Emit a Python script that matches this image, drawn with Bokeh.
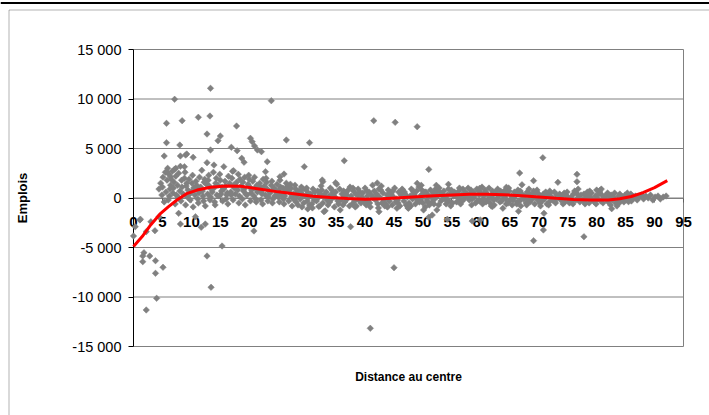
import math
from bokeh.plotting import figure
from bokeh.models import Range1d, FixedTicker, Label, Span, BoxAnnotation
from bokeh.embed import file_html
from bokeh.resources import INLINE

# ---------------- data ----------------
x_ticks = [0, 5, 10, 15, 20, 25, 30, 35, 40, 45, 50, 55, 60, 65, 70, 75, 80, 85, 90, 95]
y_ticks = [-15000, -10000, -5000, 0, 5000, 10000, 15000]
y_tick_labels = ["-15 000", "-10 000", "-5 000", "0", "5 000", "10 000", "15 000"]

# dense cloud near the centre (distance 4-30)
cloud_x = [
    4.4, 4.7, 4.9, 5.1, 5.3, 5.0, 5.5, 5.6,
    5.8, 6.0, 6.1, 6.3, 6.4, 5.9, 6.2, 6.5,
    6.7, 6.8, 7.0, 7.2, 7.3, 6.9, 7.4, 7.1,
    7.6, 7.8, 8.0, 8.2, 8.3, 7.7, 8.4, 8.1,
    8.6, 8.8, 9.0, 9.2, 9.4, 8.9, 9.3, 9.1,
    9.6, 9.8, 10.0, 10.2, 10.4, 9.7, 10.3, 10.1,
    10.6, 10.8, 11.0, 11.2, 11.4, 10.9, 11.3, 11.1,
    11.6, 11.8, 12.0, 12.2, 12.4, 11.9, 12.3, 12.1,
    12.6, 12.8, 13.0, 13.2, 13.4, 12.9, 13.3, 13.1,
    13.6, 13.8, 14.0, 14.2, 14.4, 13.9, 14.3, 14.1,
    14.6, 14.8, 15.0, 15.2, 15.4, 14.9, 15.3, 15.1,
    15.6, 15.8, 16.0, 16.2, 16.4, 15.9, 16.3, 16.1,
    16.6, 16.8, 17.0, 17.2, 17.4, 16.9, 17.3, 17.1,
    17.6, 17.8, 18.0, 18.2, 18.4, 17.9, 18.3, 18.1,
    18.6, 18.8, 19.0, 19.2, 19.4, 18.9, 19.3, 19.1,
    19.6, 19.8, 20.0, 20.2, 20.4, 19.9, 20.3, 20.1,
    20.6, 20.8, 21.0, 21.2, 21.4, 20.9, 21.3, 21.1,
    21.6, 21.8, 22.0, 22.2, 22.4, 21.9, 22.3, 22.1,
    22.6, 22.8, 23.0, 23.2, 23.4, 22.9, 23.3, 23.1,
    23.6, 23.8, 24.0, 24.2, 24.4, 23.9, 24.3, 24.1,
    24.6, 24.8, 25.0, 25.2, 25.4, 24.9, 25.3, 25.1,
    25.6, 25.8, 26.0, 26.2, 26.4, 25.9, 26.3, 26.1,
    26.6, 26.8, 27.0, 27.2, 27.4, 26.9, 27.3, 27.1,
    27.6, 27.8, 28.0, 28.2, 28.4, 27.9, 28.3, 28.1,
    28.6, 28.8, 29.0, 29.2, 29.4, 28.9, 29.3, 29.1,
    29.6, 29.8, 30.0, 30.2, 30.4, 29.9, 30.3, 30.1,
]
cloud_y = [
    900, 1500, 300, 2100, -400, 1100, 2600, 600,
    1800, -200, 2400, 900, 1300, 3000, 200, 1900,
    2700, 500, 1600, -600, 2200, 1000, 300, 2900,
    1300, 2500, 700, -300, 1800, 100, 1100, 3200,
    400, 2000, -700, 1500, 800, 2600, 100, 1200,
    1900, -200, 600, 2300, 1000, 400, -900, 1500,
    300, 1700, 900, -500, 2100, 1300, 500, -100,
    1100, 2800, 200, 1600, -800, 700, 1900, -300,
    1400, 400, 2300, -200, 900, 1800, 100, 1200,
    600, 2600, -400, 1500, 300, 1000, 2000, -700,
    1300, 200, 1800, 700, -300, 2400, 1100, 400,
    900, 1700, -100, 500, 2200, 1200, -600, 300,
    1500, 600, 2000, -200, 1000, 300, 1300, 2700,
    400, 1600, 800, -500, 1900, 1100, 200, 2400,
    1200, -100, 700, 2100, 400, 1600, -700, 900,
    300, 1400, 1900, -300, 800, 2300, 500, 1100,
    1700, 200, 1000, -400, 600, 2100, 1300, -100,
    800, 1500, -200, 400, 1900, 1100, -600, 600,
    1200, 300, 1600, -300, 700, 2000, 100, 900,
    500, 1300, -500, 900, 200, 1700, 1000, -100,
    700, 1400, 100, -400, 1100, 400, 1800, 800,
    300, 1000, -600, 600, 1500, -100, 900, 200,
    1200, -300, 500, 1000, -800, 800, 100, 1400,
    400, -200, 900, 200, -700, 1300, 600, -400,
    700, -100, 1100, 300, -500, 500, 900, -900,
    200, 800, -300, 500, -700, 1000, 100, -1100,
]

# tight band (distance 30-92)
band_x = [
    30.6, 30.8, 31.0, 31.2, 31.4, 30.9, 31.3,
    31.6, 31.8, 32.0, 32.2, 32.4, 31.7, 32.3,
    32.5, 32.7, 32.9, 33.1, 33.3, 32.8, 33.4,
    33.6, 33.8, 34.0, 34.2, 34.4, 33.9, 34.3,
    34.5, 34.7, 34.9, 35.1, 35.3, 34.8, 35.4,
    35.6, 35.8, 36.0, 36.2, 36.4, 35.7, 36.3,
    36.5, 36.7, 36.9, 37.1, 37.3, 36.8, 37.4,
    37.6, 37.8, 38.0, 38.2, 38.4, 37.9, 38.3,
    38.5, 38.7, 38.9, 39.1, 39.3, 38.8, 39.4,
    39.6, 39.8, 40.0, 40.2, 40.4, 39.7, 40.3,
    40.5, 40.7, 40.9, 41.1, 41.3, 40.8, 41.4,
    41.6, 41.8, 42.0, 42.2, 42.4, 41.9, 42.3,
    42.5, 42.7, 42.9, 43.1, 43.3, 42.8, 43.4,
    43.6, 43.8, 44.0, 44.2, 44.4, 43.9, 44.3,
    44.5, 44.7, 44.9, 45.1, 45.3, 44.8, 45.4,
    45.6, 45.8, 46.0, 46.2, 46.4, 45.7, 46.3,
    46.5, 46.7, 46.9, 47.1, 47.3, 46.8, 47.4,
    47.6, 47.8, 48.0, 48.2, 48.4, 47.9, 48.3,
    48.5, 48.7, 48.9, 49.1, 49.3, 48.8, 49.4,
    49.6, 49.8, 50.0, 50.2, 50.4, 49.7, 50.3,
    50.5, 50.7, 50.9, 51.1, 51.3, 50.8, 51.4,
    51.6, 51.8, 52.0, 52.2, 52.4, 51.9, 52.3,
    52.5, 52.7, 52.9, 53.1, 53.3, 52.8, 53.4,
    53.6, 53.8, 54.0, 54.2, 54.4, 53.9, 54.3,
    54.5, 54.7, 54.9, 55.1, 55.3, 54.8, 55.4,
    55.6, 55.8, 56.0, 56.2, 56.4, 55.7, 56.3,
    56.5, 56.7, 56.9, 57.1, 57.3, 56.8, 57.4,
    57.6, 57.8, 58.0, 58.2, 58.4, 57.9, 58.3,
    58.5, 58.7, 58.9, 59.1, 59.3, 58.8, 59.4,
    59.6, 59.8, 60.0, 60.2, 60.4, 59.7, 60.3,
    60.5, 60.7, 60.9, 61.1, 61.3, 60.8, 61.4,
    61.6, 61.8, 62.0, 62.2, 62.4, 61.9, 62.3,
    62.5, 62.7, 62.9, 63.1, 63.3, 62.8, 63.4,
    63.6, 63.8, 64.0, 64.2, 64.4, 63.9, 64.3,
    64.5, 64.7, 64.9, 65.1, 65.3, 64.8, 65.4,
    65.6, 65.8, 66.0, 66.2, 66.4, 65.7, 66.3,
    66.5, 66.7, 66.9, 67.1, 67.3, 66.8, 67.4,
    67.6, 67.8, 68.0, 68.2, 68.4, 67.9, 68.3,
    68.5, 68.7, 68.9, 69.1, 69.3, 68.8, 69.4,
    69.6, 69.8, 70.0, 70.2, 70.4, 69.7, 70.3,
    70.6, 70.8, 71.0, 71.2, 71.4, 70.9,
    71.6, 71.8, 72.0, 72.2, 72.4, 71.9,
    72.5, 72.7, 72.9, 73.1, 73.3, 72.8,
    73.6, 73.8, 74.0, 74.2, 74.4, 73.9,
    74.5, 74.7, 74.9, 75.1, 75.3, 74.8,
    75.6, 75.8, 76.0, 76.2, 76.4, 75.9,
    76.5, 76.7, 76.9, 77.1, 77.3, 76.8,
    77.6, 77.8, 78.0, 78.2, 78.4, 77.9,
    78.5, 78.7, 78.9, 79.1, 79.3, 78.8,
    79.6, 79.8, 80.0, 80.2, 80.4, 79.9,
    80.5, 80.7, 80.9, 81.1, 81.3, 80.8,
    81.6, 81.8, 82.0, 82.2, 82.4, 81.9,
    82.5, 82.7, 82.9, 83.1, 83.3, 82.8,
    83.6, 83.8, 84.0, 84.2, 84.4, 83.9,
    84.5, 84.7, 84.9, 85.1, 85.3, 84.8,
    85.6, 85.8, 86.0, 86.2, 86.4, 85.9,
    86.7, 87.0, 87.4, 87.8, 88.1, 88.5, 88.9,
    89.3, 89.7, 90.1, 90.6, 91.0, 91.5, 92.0,
]
band_y = [
    400, -600, 900, -200, 100, -1000, 600,
    -300, 700, 200, -800, 1200, -100, 400,
    800, -500, 300, -1300, 600, 100, -200,
    -700, 200, 1000, -100, 500, -400, 800,
    300, -900, 600, 1400, -300, 100, -600,
    900, -200, 400, -700, 200, -1200, 700,
    -400, 500, -100, 800, -800, 300, 1100,
    200, -600, 700, -300, 400, 1000, -900,
    -800, 300, -200, 600, -500, 900, 100,
    500, -400, 1000, -700, 200, -100, 700,
    -300, 600, -900, 300, 1300, -500, 0,
    700, -200, 400, -600, 900, 100, -1000,
    100, 800, -500, 500, -200, 1200, -800,
    -600, 300, 800, -300, 600, -900, 200,
    400, -700, 100, 1000, -400, 700, -100,
    -200, 600, -800, 300, 900, -500, 500,
    800, -300, 400, -700, 100, 600, -1000,
    -500, 200, 900, -100, 500, -800, 700,
    300, -600, 700, -300, 1100, 0, -400,
    -100, 800, -500, 500, -900, 300, 600,
    600, -200, 300, -700, 800, -400, 100,
    -400, 500, -100, 900, 200, -600, 700,
    200, -700, 600, -300, 400, 1000, -100,
    700, -100, -600, 300, 900, 100, -300,
    -300, 400, 800, -500, 200, -800, 600,
    500, -400, 100, 700, -200, 300, 1000,
    -600, 300, 900, -100, 600, -300, 200,
    400, 1000, -200, 500, -700, 200, 800,
    -100, 600, 300, -500, 900, 100, -300,
    700, -300, 500, 1100, -100, 300, -600,
    200, 800, -400, 400, -100, 600, 1000,
    -500, 300, 700, -200, 500, 100, -700,
    600, -100, 900, 200, -400, 400, 700,
    -300, 500, 100, 800, -600, 300, -100,
    400, -500, 700, -200, 200, 1000, -700,
    -200, 600, 300, -600, 800, 100, -400,
    500, -300, -800, 400, 100, 700, -100,
    200, -500, 600, -200, 400, -700, 900,
    -400, 300, -100, 700, -600, 100, 500,
    600, -200, 400, -500, 100, 800, -800,
    -300, 400, -100, 600, -600, 200,
    300, -400, 500, 100, -200, 700,
    -100, 600, -500, 300, 100, -300,
    400, -200, 200, -600, 500, 0,
    -400, 300, 600, -100, -500, 200,
    100, -300, 400, 700, -200, -600,
    500, -100, 200, -400, 300, 900,
    -200, 400, -600, 100, 600, -400,
    300, -500, 100, 500, -200, 700,
    -400, 200, 800, -100, 400, -600,
    600, -300, 300, -500, 100, 900,
    -100, 400, -400, 200, -700, 500,
    300, -200, 100, 500, -500, -100,
    -300, 200, 400, -100, 100, -500,
    100, -400, 300, -200, 500, 0,
    -100, 300, -300, 200, 0, 400,
    200, -200, 100, 300, -100, 200, 0,
    300, -200, 100, 200, -100, 100, 200,
]

# scattered points away from the band
out_x = [
    13.3, 7.1, 23.8, 5.7, 8.4, 11.2, 13.2, 12.7, 15.0, 17.8,
    5.7, 5.3, 8.0, 9.2, 8.1, 10.3, 8.8, 13.3, 12.7, 13.9,
    15.6, 16.9, 17.9, 18.7, 19.1, 20.2, 20.5, 20.9, 21.4, 22.1,
    23.1, 22.8, 26.4, 30.4, 29.5, 41.5, 45.2, 49.0, 36.4, 51.0,
    70.7, 66.7, 67.1, 69.1, 32.7, 49.0, 49.7, 52.3, 54.4, 42.1,
    73.3, 76.6, 76.6, 80.5, 77.8, 69.1, 70.8, 70.9, 82.6, 83.5,
    85.5, 66.5, 63.8, 71.7, 64.4, 59.8, 34.9, 32.6, 26.0, 25.3,
    45.0, 40.9, 37.5, 51.6, 52.4, 58.5, 59.9, 54.2, 62.0, 42.4,
    43.8, 32.9, 32.0, 45.5, 47.5, 50.1, 51.0, 61.8, 14.6, 9.0,
    0.0, 0.3, 1.2, 3.7, 1.8, 2.8, 1.6, 3.8, 5.1, 3.8,
    4.0, 2.2, 12.7, 13.4, 15.3, 20.8, 1.6, 7.8, 8.1, 10.7,
    11.7, 12.4, 2.2, 1.1, 3.0, 4.4, 5.8, 7.3, 6.4, 17.3,
]
out_y = [
    11080, 9970, 9830, 7540, 7810, 8150, 8280, 6460, 6260, 7270,
    5590, 4240, 5350, 4440, 4240, 4110, 3160, 4850, 3570, 3330,
    3160, 5120, 4780, 4010, 3610, 6030, 5690, 5250, 4850, 4680,
    3670, 2660, 5860, 5590, 3160, 7810, 7640, 7200, 3770, 2890,
    4070, 2520, 1340, 1750, 1650, 1480, 1280, 1280, 1380, 1520,
    1580, 2390, 1650, 740, -3910, -4310, -3230, -1550, -1080, -810,
    -370, -1340, -1040, -710, 1080, 980, 1550, 1820, 2420, 2150,
    -7040, -13160, -2900, -1720, -1210, -2330, -2220, -2150, -870, -1380,
    -870, -1380, -870, -1040, -1040, -1210, -1950, -810, 5790, 4340,
    -3840, -2900, -2150, -3300, -5520, -5860, -6430, -6330, -7000, -7610,
    -10130, -11310, -5860, -9020, -4850, -3330, -5860, -1550, -2630, -1890,
    -2960, -2630, -3400, -2220, -2400, -1900, 2660, 3000, 2150, 2760,
]

# polynomial trend line
trend_x = [0, 1.5, 3, 4.7, 6, 7.5, 9.3, 11, 13.3, 16, 18.5, 22, 25, 28, 31, 34, 37, 40,
           43, 46, 49, 52, 55, 58, 61, 64, 67, 70, 73, 76, 79, 82, 84, 86, 88, 90, 92.2]
trend_y = [-4900, -3900, -2700, -1550, -900, -200, 470, 800, 1080, 1200, 1180, 880, 620,
           400, 180, 50, -50, -130, -80, 30, 130, 230, 310, 370, 380, 330, 230, 100, -30,
           -150, -210, -200, -80, 150, 550, 1050, 1750]

# ---------------- layout (pixels in the page) ----------------
W, H = 709, 415
PX_L, PX_R, PX_T, PX_B = 133, 683, 49, 346   # plot area edges
x_lo, x_hi = x_ticks[0], x_ticks[-1]
y_lo, y_hi = y_ticks[0], y_ticks[-1]
kx = (PX_R - PX_L) / (x_hi - x_lo)
ky = (PX_B - PX_T) / (y_hi - y_lo)
x_start = x_lo - PX_L / kx
x_end = x_start + W / kx
y_end = y_hi + PX_T / ky
y_start = y_end - H / ky


def px2x(px):
    return x_start + px / kx


def px2y(py):
    return y_end - py / ky


FONT = "Liberation Sans"
GRID = "#808080"

p = figure(width=W, height=H, output_backend="svg", toolbar_location=None,
           x_range=Range1d(x_start, x_end), y_range=Range1d(y_start, y_end),
           min_border=0, min_border_left=0, min_border_right=0,
           min_border_top=0, min_border_bottom=0)
p.title.visible = False
p.background_fill_color = "white"
p.border_fill_color = "white"
p.outline_line_color = None
p.xgrid.visible = False
p.ygrid.visible = False

# page decorations: thick rule at the top and the chart border
p.add_layout(Span(location=px2y(2.5), dimension="width", line_color="black", line_width=2))
p.add_layout(BoxAnnotation(left=px2x(8.5), top=px2y(9.5), fill_alpha=0,
                           line_color="black", line_width=1))

# horizontal gridlines and the plot-area right edge, limited to the plot area
p.segment(x0=[x_lo] * len(y_ticks), y0=y_ticks, x1=[x_hi] * len(y_ticks), y1=y_ticks,
          line_color=GRID, line_width=1, level="underlay")
p.segment(x0=[x_hi], y0=[y_lo], x1=[x_hi], y1=[y_hi],
          line_color=GRID, line_width=1, level="underlay")

# y axis at x = 0
p.yaxis.fixed_location = 0
p.yaxis.bounds = (y_lo, y_hi)
p.yaxis.level = "underlay"
p.yaxis.ticker = FixedTicker(ticks=y_ticks)
p.yaxis.major_label_overrides = {t: l for t, l in zip(y_ticks, y_tick_labels)}
p.yaxis.axis_line_color = "black"
p.yaxis.major_tick_line_color = "black"
p.yaxis.major_tick_out = 5
p.yaxis.major_tick_in = 0
p.yaxis.minor_tick_line_color = None
p.yaxis.major_label_standoff = 7
p.yaxis.major_label_text_font = FONT
p.yaxis.major_label_text_font_size = "14.5px"
p.yaxis.major_label_text_color = "black"
p.yaxis.axis_label = "Emplois"
p.yaxis.axis_label_text_font = FONT
p.yaxis.axis_label_text_font_style = "bold"
p.yaxis.axis_label_text_font_size = "13px"
p.yaxis.axis_label_text_color = "black"
p.yaxis.axis_label_standoff = 39

# x axis crossing at y = 0 (drawn under the points, as in the original)
p.xaxis.fixed_location = 0
p.xaxis.bounds = (x_lo, x_hi)
p.xaxis.level = "underlay"
p.xaxis.ticker = FixedTicker(ticks=x_ticks)
p.xaxis.axis_line_color = GRID
p.xaxis.major_tick_line_color = "#606060"
p.xaxis.major_tick_out = 4
p.xaxis.major_tick_in = 0
p.xaxis.minor_tick_line_color = None
p.xaxis.major_label_standoff = 15
p.xaxis.major_label_text_font = FONT
p.xaxis.major_label_text_font_style = "bold"
p.xaxis.major_label_text_font_size = "15px"
p.xaxis.major_label_text_color = "black"

# x axis title
p.add_layout(Label(x=(x_lo + x_hi) / 2, y=y_lo, x_units="data", y_units="data", y_offset=-23,
                   text="Distance au centre", text_align="center", text_baseline="top",
                   text_font=FONT, text_font_style="bold",
                   text_font_size="12px", text_color="black"))

# scatter
all_x = cloud_x + band_x + out_x
all_y = cloud_y + band_y + out_y
n = min(len(all_x), len(all_y))
p.scatter(all_x[:n], all_y[:n], marker="square", angle=math.pi / 4, size=4.6,
          fill_color="#808080", line_color="#808080", line_width=0.5)

# trend
p.line(trend_x, trend_y, line_color="#FF0000", line_width=3)

open("out.html", "w").write(file_html(p, INLINE))
